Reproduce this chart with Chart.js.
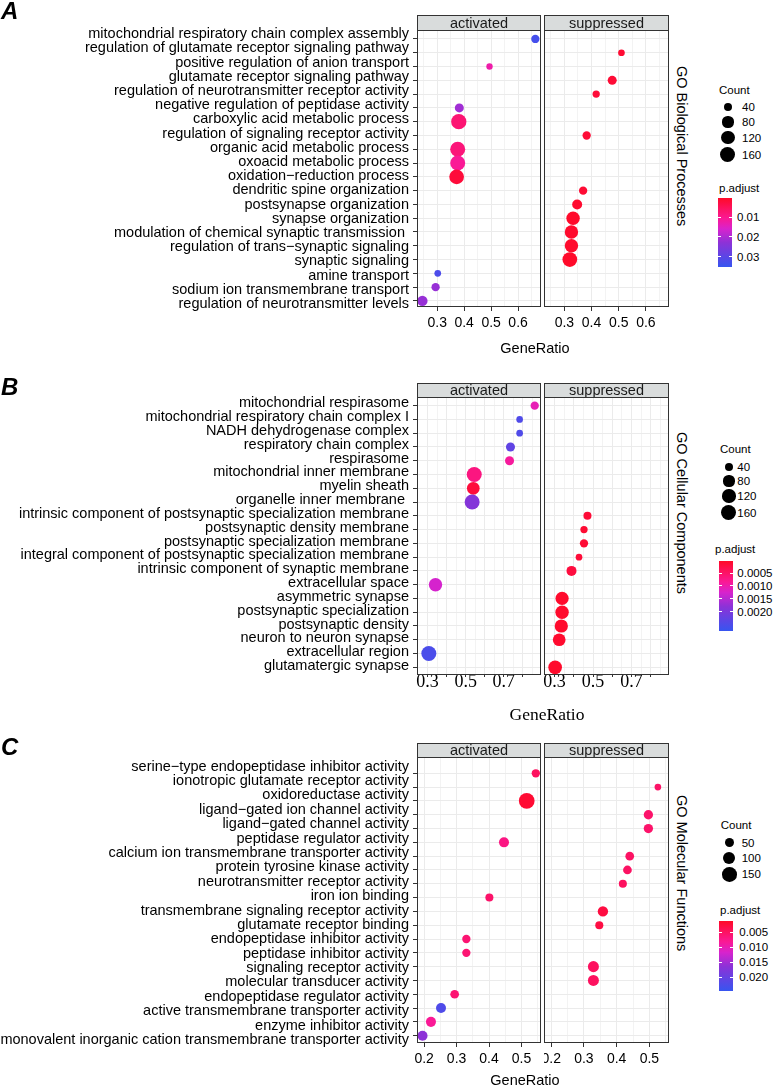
<!DOCTYPE html>
<html>
<head>
<meta charset="utf-8">
<title>GO enrichment dot plots</title>
<script src="https://cdn.jsdelivr.net/npm/chart.js@4.4.1/dist/chart.umd.min.js"></script>
<style>
  html, body { margin: 0; padding: 0; background: #fff; }
  #page { position: relative; width: 774px; height: 1087px; overflow: hidden;
          font-family: 'Liberation Sans', Arial, Helvetica, sans-serif; color: #000; }
  #page canvas { position: absolute; }
  .txt { position: absolute; white-space: pre; }
  .panel-tag { font-size: 24px; font-weight: bold; font-style: italic; line-height: 24px; }
  .facet-side { writing-mode: vertical-rl; font-size: 14.5px; line-height: 16px; }
  .axis-title { width: 200px; text-align: center; }
  .lg { font-size: 11.5px; line-height: 14px; }
  .dot { position: absolute; border-radius: 50%; background: #000; }
  .bar { position: absolute; }
  .cbtick { position: absolute; height: 1px; width: 3px; background: #fff; }
</style>
</head>
<body>
<div id="page"></div>
<script>
const FONT = "'Liberation Sans', Arial, Helvetica, sans-serif";
const SERIF = "'Liberation Serif', 'Times New Roman', serif";
const GRID = '#ebebeb', FRAME = '#333333', STRIP = '#d9dcdc';

// p.adjust colour ramp, low (red) to high (blue), as seen on the colour bars
const rampStops = [0, 0.3, 0.45, 0.65, 1];
const rampColors = ['#ff0a28', '#fa1996', '#d723cd', '#8c32d7', '#3755f0'];

// ---- A: GO Biological Processes ----
const termsA = [
  'mitochondrial respiratory chain complex assembly',
  'regulation of glutamate receptor signaling pathway',
  'positive regulation of anion transport',
  'glutamate receptor signaling pathway',
  'regulation of neurotransmitter receptor activity',
  'negative regulation of peptidase activity',
  'carboxylic acid metabolic process',
  'regulation of signaling receptor activity',
  'organic acid metabolic process',
  'oxoacid metabolic process',
  'oxidation\u2212reduction process',
  'dendritic spine organization',
  'postsynapse organization',
  'synapse organization',
  'modulation of chemical synaptic transmission ',
  'regulation of trans\u2212synaptic signaling',
  'synaptic signaling',
  'amine transport',
  'sodium ion transmembrane transport',
  'regulation of neurotransmitter levels'
];
const actRatioA = [0.664, null, 0.494, null, null, 0.382, 0.380, null, 0.376, 0.376, 0.372, null, null, null, null, null, null, 0.302, 0.294, 0.245];
const actCountA = [40, null, 20, null, null, 49, 166, null, 160, 160, 153, null, null, null, null, null, null, 23, 40, 68];
const actPadjA  = [0.033, null, 0.0124, null, null, 0.021, 0.0072, null, 0.0079, 0.0106, 0.0019, null, null, null, null, null, null, 0.032, 0.0218, 0.0218];
const supRatioA = [null, 0.510, null, 0.476, 0.417, null, null, 0.382, null, null, null, 0.369, 0.347, 0.332, 0.326, 0.326, 0.320, null, null, null];
const supCountA = [null, 23, null, 49, 29, null, null, 40, null, null, null, 40, 63, 124, 124, 124, 153, null, null, null];
const supPadjA  = [null, 0.0012, null, 0.0015, 0.0018, null, null, 0.0016, null, null, null, 0.0014, 0.0010, 0.0006, 0.0008, 0.0007, 0.0004, null, null, null];
const xTicksA = [0.3, 0.4, 0.5, 0.6];
const xLabelsA = [0.3, 0.4, 0.5, 0.6];
const countBreaksA = [40, 80, 120, 160];
const padjBreaksA = ['0.01', '0.02', '0.03'];

// ---- B: GO Cellular Components ----
const termsB = [
  'mitochondrial respirasome',
  'mitochondrial respiratory chain complex I',
  'NADH dehydrogenase complex',
  'respiratory chain complex',
  'respirasome',
  'mitochondrial inner membrane',
  'myelin sheath',
  'organelle inner membrane ',
  'intrinsic component of postsynaptic specialization membrane',
  'postsynaptic density membrane',
  'postsynaptic specialization membrane',
  'integral component of postsynaptic specialization membrane',
  'intrinsic component of synaptic membrane',
  'extracellular space',
  'asymmetric synapse',
  'postsynaptic specialization',
  'postsynaptic density',
  'neuron to neuron synapse',
  'extracellular region',
  'glutamatergic synapse'
];
const actRatioB = [0.862, 0.783, 0.783, 0.735, 0.730, 0.545, 0.540, 0.534, null, null, null, null, null, 0.342, null, null, null, null, 0.307, null];
const actCountB = [40, 23, 23, 49, 49, 160, 110, 160, null, null, null, null, null, 124, null, null, null, null, 160, null];
const actPadjB  = [0.00106, 0.00247, 0.00247, 0.00229, 0.00088, 0.00067, 0.00016, 0.00188, null, null, null, null, null, 0.00126, null, null, null, null, 0.00252, null];
const supRatioB = [null, null, null, null, null, null, null, null, 0.471, 0.453, 0.453, 0.427, 0.388, null, 0.339, 0.339, 0.335, 0.324, null, 0.303];
const supCountB = [null, null, null, null, null, null, null, null, 37, 29, 40, 23, 63, null, 120, 125, 120, 110, null, 130];
const supPadjB  = [null, null, null, null, null, null, null, null, 0.00012, 0.00010, 0.00011, 0.00014, 0.00018, null, 0.00005, 0.00005, 0.00005, 0.00006, null, 0.00004];
const xTicksB = [0.3, 0.4, 0.5, 0.6, 0.7, 0.8];
const xLabelsB = [0.3, 0.5, 0.7];
const countBreaksB = [40, 80, 120, 160];
const padjBreaksB = ['0.0005', '0.0010', '0.0015', '0.0020'];

// ---- C: GO Molecular Functions ----
const termsC = [
  'serine\u2212type endopeptidase inhibitor activity',
  'ionotropic glutamate receptor activity',
  'oxidoreductase activity',
  'ligand\u2212gated ion channel activity',
  'ligand\u2212gated channel activity',
  'peptidase regulator activity',
  'calcium ion transmembrane transporter activity',
  'protein tyrosine kinase activity',
  'neurotransmitter receptor activity',
  'iron ion binding',
  'transmembrane signaling receptor activity',
  'glutamate receptor binding',
  'endopeptidase inhibitor activity',
  'peptidase inhibitor activity',
  'signaling receptor activity',
  'molecular transducer activity',
  'endopeptidase regulator activity',
  'active transmembrane transporter activity',
  'enzyme inhibitor activity',
  'monovalent inorganic cation transmembrane transporter activity'
];
const actRatioC = [0.544, null, 0.516, null, null, 0.446, null, null, null, 0.401, null, null, 0.330, 0.330, null, null, 0.294, 0.252, 0.221, 0.195];
const actCountC = [40, null, 177, null, null, 63, null, null, null, 37, null, null, 40, 40, null, null, 45, 63, 63, 63];
const actPadjC  = [0.0047, null, 0.0019, null, null, 0.0070, null, null, null, 0.0054, null, null, 0.0059, 0.0059, null, null, 0.0059, 0.0222, 0.0082, 0.0163];
const supRatioC = [null, 0.526, null, 0.497, 0.497, null, 0.440, 0.433, 0.419, null, 0.358, 0.347, null, null, 0.329, 0.329, null, null, null, null];
const supCountC = [null, 23, null, 53, 53, null, 45, 45, 37, null, 68, 37, null, null, 79, 79, null, null, null, null];
const supPadjC  = [null, 0.0052, null, 0.0054, 0.0054, null, 0.0050, 0.0050, 0.0047, null, 0.0028, 0.0030, null, null, 0.0047, 0.0047, null, null, null, null];
const xTicksC = [0.2, 0.3, 0.4, 0.5];
const xLabelsC = [0.2, 0.3, 0.4, 0.5];
const countBreaksC = [50, 100, 150];
const padjBreaksC = ['0.005', '0.010', '0.015', '0.020'];

// layout of each panel (pixels, axis limits, legend placement)
const panels = [
  {
    tag: 'A', side: 'GO Biological Processes', terms: termsA,
    act: [actRatioA, actCountA, actPadjA], sup: [supRatioA, supCountA, supPadjA],
    xTicks: xTicksA, xLabels: xLabelsA, countBreaks: countBreaksA, padjBreaks: padjBreaksA,
    top: 15, stripH: 15, bottom: 307, yMin: -0.65, yMax: 19.44, labMin: -0.30, labMax: 19.21,
    xMin: 0.225, xMax: 0.685, tickFont: { family: FONT, size: 14 }, tickLen: 4, tickPad: 4,
    tagTop: -1.4, sideTop: 66,
    title: { cx: 535, top: 338.5, font: FONT, size: 14.5 },
    lg: { countTitle: 90, countX: 719, rows: [107, 122, 137.5, 155], dotX: 728, countLabelX: 742,
          pTitle: 187.5, pTitleX: 719, barTop: 197.7, barH: 69, barX: 718, pLabelX: 737,
          pMin: 0.0002, pMax: 0.035 }
  },
  {
    tag: 'B', side: 'GO Cellular Components', terms: termsB,
    act: [actRatioB, actCountB, actPadjB], sup: [supRatioB, supCountB, supPadjB],
    xTicks: xTicksB, xLabels: xLabelsB, countBreaks: countBreaksB, padjBreaks: padjBreaksB,
    top: 383, stripH: 14, bottom: 675, yMin: -0.63, yMax: 19.56, labMin: -0.456, labMax: 19.65,
    xMin: 0.245, xMax: 0.895, tickFont: { family: SERIF, size: 18, lineHeight: 1 }, tickLen: 2, tickPad: -4,
    tagTop: 375.2, sideTop: 431.7,
    title: { cx: 547, top: 705, font: SERIF, size: 17.5 },
    lg: { countTitle: 449.3, countX: 720, rows: [467.3, 481, 496, 513], dotX: 729, countLabelX: 737.3,
          pTitle: 549.3, pTitleX: 715, barTop: 560.7, barH: 70, barX: 719.3, pLabelX: 737.3,
          pMin: 0.00001, pMax: 0.00275 }
  },
  {
    tag: 'C', side: 'GO Molecular Functions', terms: termsC,
    act: [actRatioC, actCountC, actPadjC], sup: [supRatioC, supCountC, supPadjC],
    xTicks: xTicksC, xLabels: xLabelsC, countBreaks: countBreaksC, padjBreaks: padjBreaksC,
    top: 743, stripH: 14, bottom: 1043, yMin: -1.18, yMax: 19.53, labMin: -0.67, labMax: 19.21,
    xMin: 0.178, xMax: 0.56, tickFont: { family: FONT, size: 14 }, tickLen: 4, tickPad: 4,
    tagTop: 735.2, sideTop: 795,
    title: { cx: 525, top: 1071, font: FONT, size: 14.5 },
    lg: { countTitle: 825, countX: 720.7, rows: [842.7, 858.3, 874.3], dotX: 729.3, countLabelX: 741.7,
          pTitle: 910, pTitleX: 720, barTop: 921, barH: 69.7, barX: 718.7, pLabelX: 739.3,
          pMin: 0.00123, pMax: 0.02447 }
  }
];

const page = document.getElementById('page');

// point radius from gene count (area scale)
function sizeR(count) {
  return 0.8 + 0.53 * Math.sqrt(count);
}

function hexRgb(hex) {
  return [1, 3, 5].map(i => parseInt(hex.slice(i, i + 2), 16));
}
const rampRgb = rampColors.map(hexRgb);

function rampColor(t) {
  t = Math.min(1, Math.max(0, t));
  let k = 0;
  while (k < rampStops.length - 2 && t > rampStops[k + 1]) k++;
  const f = (t - rampStops[k]) / (rampStops[k + 1] - rampStops[k]);
  const c = rampRgb[k].map((v, i) => Math.round(v + (rampRgb[k + 1][i] - v) * f));
  return 'rgb(' + c.join(',') + ')';
}
function padjColor(p, lg) {
  return rampColor((p - lg.pMin) / (lg.pMax - lg.pMin));
}

// strip on top + panel frame
const facetFrame = {
  id: 'facetFrame',
  beforeDraw(chart, args, opts) {
    const { ctx, chartArea: a } = chart;
    ctx.save();
    ctx.fillStyle = STRIP;
    ctx.fillRect(a.left, 0, a.width, a.top);
    ctx.strokeStyle = FRAME;
    ctx.lineWidth = 1;
    ctx.strokeRect(a.left + 0.5, 0.5, a.width - 1, a.top);
    ctx.fillStyle = '#1a1a1a';
    ctx.font = '14.5px ' + FONT;
    ctx.textAlign = 'center';
    ctx.textBaseline = 'middle';
    ctx.fillText(opts.label, (a.left + a.right) / 2, a.top / 2 + 1);
    ctx.restore();
  },
  afterDraw(chart) {
    const { ctx, chartArea: a } = chart;
    ctx.save();
    ctx.strokeStyle = FRAME;
    ctx.lineWidth = 1;
    ctx.strokeRect(a.left + 0.5, a.top + 0.5, a.width - 1, a.height - 1);
    ctx.restore();
  }
};

function addText(text, cls, style) {
  const d = document.createElement('div');
  d.className = 'txt ' + cls;
  d.textContent = text;
  Object.assign(d.style, style);
  page.appendChild(d);
  return d;
}

function drawFacet(pd, label, series) {
  const [ratio, count, padj] = series;
  const isAct = label === 'activated';
  const left = isAct ? 0 : 544;
  const plotLeft = isAct ? 417 : 544;
  const plotRight = isAct ? 541 : 669;
  const xAxisH = 45;

  const canvas = document.createElement('canvas');
  canvas.width = plotRight - left;
  canvas.height = pd.bottom - pd.top + xAxisH;
  canvas.style.left = left + 'px';
  canvas.style.top = pd.top + 'px';
  page.appendChild(canvas);

  const points = [];
  ratio.forEach((x, i) => {
    if (x !== null) points.push({ x: x, y: i, r: sizeR(count[i]), p: padj[i] });
  });

  const rows = pd.terms.map((_, i) => ({ value: i }));
  const gridX = [];
  for (let k = Math.ceil(pd.xMin / 0.05 - 1e-9); k * 0.05 <= pd.xMax + 1e-9; k++) {
    gridX.push(+(k * 0.05).toFixed(2));
  }
  const isMark = v => pd.xTicks.some(t => Math.abs(t - v) < 1e-6);
  const isLabel = v => pd.xLabels.some(t => Math.abs(t - v) < 1e-6);

  const scales = {
    x: {
      type: 'linear', axis: 'x', position: 'bottom', min: pd.xMin, max: pd.xMax,
      afterBuildTicks: s => { s.ticks = gridX.map(v => ({ value: v })); },
      afterFit: s => { s.height = xAxisH; s.paddingLeft = 0; s.paddingRight = 0; },
      ticks: {
        autoSkip: false, maxRotation: 0, color: '#000', font: pd.tickFont, padding: pd.tickPad,
        callback: v => isLabel(v) ? v.toFixed(1) : ''
      },
      grid: {
        color: GRID,
        lineWidth: c => (c.tick && isMark(c.tick.value)) ? 1 : 0.6,
        tickLength: pd.tickLen,
        tickWidth: 1,
        tickColor: c => (c.tick && isMark(c.tick.value)) ? FRAME : 'rgba(0,0,0,0)'
      },
      border: { display: false }
    },
    y: {
      type: 'linear', axis: 'y', position: 'left', reverse: true, weight: 0,
      min: pd.yMin, max: pd.yMax,
      afterBuildTicks: s => { s.ticks = rows.map(t => ({ value: t.value })); },
      afterFit: s => { s.width = isAct ? 4 : 0; s.paddingTop = 0; s.paddingBottom = 0; },
      ticks: { display: false },
      grid: { color: GRID, lineWidth: 1, drawTicks: isAct, tickLength: 4, tickWidth: 1, tickColor: FRAME },
      border: { display: false }
    }
  };
  if (isAct) {
    scales.yLab = {
      type: 'linear', axis: 'y', position: 'left', reverse: true, weight: 1,
      min: pd.labMin, max: pd.labMax,
      afterBuildTicks: s => { s.ticks = rows.map(t => ({ value: t.value })); },
      afterFit: s => { s.width = plotLeft - 4; s.paddingTop = 0; s.paddingBottom = 0; },
      ticks: {
        autoSkip: false, color: '#000', padding: 4,
        font: { family: FONT, size: 14.5 },
        callback: v => pd.terms[v]
      },
      grid: { display: false, drawTicks: false },
      border: { display: false }
    };
  }

  new Chart(canvas, {
    type: 'bubble',
    data: {
      datasets: [{
        data: points,
        xAxisID: 'x',
        yAxisID: 'y',
        backgroundColor: c => (c.raw ? padjColor(c.raw.p, pd.lg) : rampColors[0]),
        borderWidth: 0,
        hoverRadius: 0
      }]
    },
    options: {
      responsive: false,
      devicePixelRatio: 1,
      animation: false,
      events: [],
      layout: { autoPadding: false, padding: { top: pd.stripH, left: 0, right: 0, bottom: 0 } },
      plugins: {
        legend: { display: false },
        tooltip: { enabled: false },
        facetFrame: { label: label }
      },
      scales: scales
    },
    plugins: [facetFrame]
  });
}

function drawLegend(pd) {
  const lg = pd.lg;
  addText('Count', 'lg', { left: lg.countX + 'px', top: (lg.countTitle - 7) + 'px' });
  pd.countBreaks.forEach((c, i) => {
    const r = sizeR(c);
    const dot = document.createElement('div');
    dot.className = 'dot';
    Object.assign(dot.style, {
      left: (lg.dotX - r) + 'px', top: (lg.rows[i] - r) + 'px',
      width: (2 * r) + 'px', height: (2 * r) + 'px'
    });
    page.appendChild(dot);
    addText(String(c), 'lg', { left: lg.countLabelX + 'px', top: (lg.rows[i] - 7) + 'px' });
  });

  addText('p.adjust', 'lg', { left: lg.pTitleX + 'px', top: (lg.pTitle - 7) + 'px' });
  const stops = [];
  for (let k = 0; k <= 20; k++) stops.push(rampColor(k / 20) + ' ' + (k * 5) + '%');
  const bar = document.createElement('div');
  bar.className = 'bar';
  Object.assign(bar.style, {
    left: lg.barX + 'px', top: lg.barTop + 'px', width: '14px', height: lg.barH + 'px',
    background: 'linear-gradient(to bottom, ' + stops.join(', ') + ')'
  });
  page.appendChild(bar);
  pd.padjBreaks.forEach(s => {
    const y = lg.barTop + lg.barH * (parseFloat(s) - lg.pMin) / (lg.pMax - lg.pMin);
    [lg.barX, lg.barX + 11].forEach(x => {
      const t = document.createElement('div');
      t.className = 'cbtick';
      Object.assign(t.style, { left: x + 'px', top: (y - 0.5) + 'px' });
      page.appendChild(t);
    });
    addText(s, 'lg', { left: lg.pLabelX + 'px', top: (y - 7) + 'px' });
  });
}

panels.forEach(pd => {
  drawFacet(pd, 'activated', pd.act);
  drawFacet(pd, 'suppressed', pd.sup);
  addText(pd.tag, 'panel-tag', { left: '1px', top: pd.tagTop + 'px' });
  addText(pd.side, 'facet-side', { left: '674px', top: pd.sideTop + 'px' });
  addText('GeneRatio', 'axis-title', {
    left: (pd.title.cx - 100) + 'px', top: pd.title.top + 'px',
    fontFamily: pd.title.font, fontSize: pd.title.size + 'px', lineHeight: '18px'
  });
  drawLegend(pd);
});
</script>
</body>
</html>
